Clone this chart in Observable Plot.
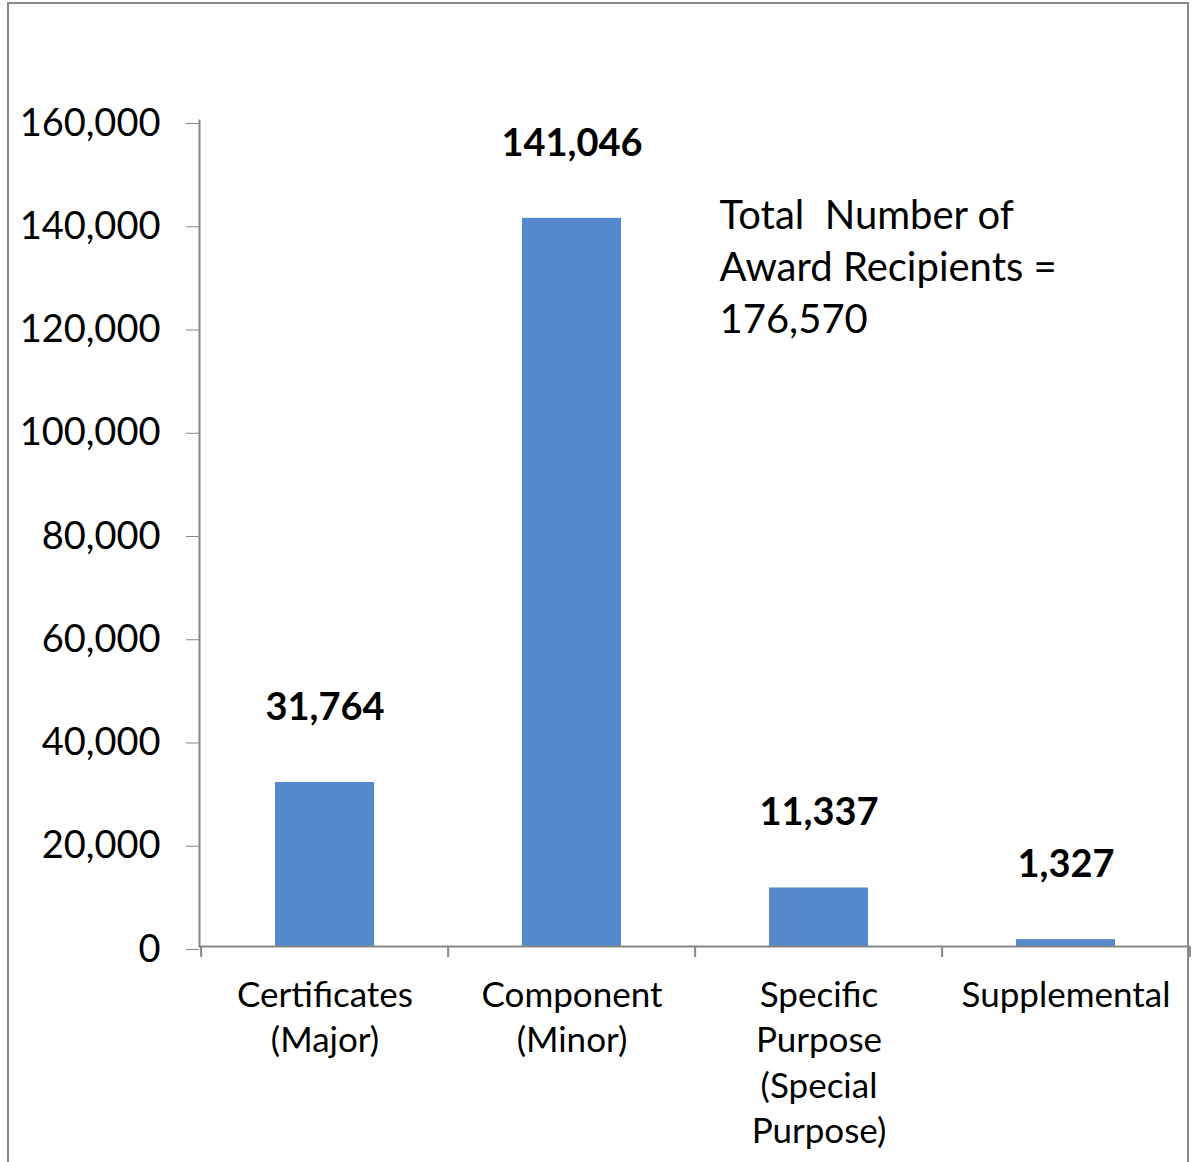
<!DOCTYPE html>
<html>
<head>
<meta charset="utf-8">
<script src="https://cdn.jsdelivr.net/npm/d3@7"></script>
<script src="https://cdn.jsdelivr.net/npm/@observablehq/plot@0.6"></script>
<style>
  html, body { margin: 0; padding: 0; background: #fff; }
  #wrap { position: relative; width: 1203px; height: 1162px; overflow: hidden; }
  #border { position: absolute; left: 7px; top: 2px; width: 1182px; height: 1200px; border: 2px solid #8a8a8a; box-sizing: border-box; pointer-events: none; }
  svg { font-family: Lato, "Open Sans", sans-serif; }
</style>
</head>
<body>
<div id="wrap"><div id="chart"></div><div id="border"></div></div>
<script>
const categories = ["Certificates (Major)", "Component (Minor)", "Specific Purpose (Special Purpose)", "Supplemental"];
const tickLabels = ["Certificates\n(Major)", "Component\n(Minor)", "Specific\nPurpose\n(Special\nPurpose)", "Supplemental"];
const values = [31764, 141046, 11337, 1327];
const valueLabels = ["31,764", "141,046", "11,337", "1,327"];
const annotation = "Total  Number of\nAward Recipients =\n176,570";
const yTicks = [0, 20000, 40000, 60000, 80000, 100000, 120000, 140000, 160000];

const data = categories.map((c, i) => ({category: c, value: values[i], label: valueLabels[i]}));

const W = 1203, H = 1162;
const mL = 199, mR = 13, mT = 120, mB = 216;
const step = (W - mL - mR) / categories.length;
const axisColor = "#868686";

const chart = Plot.plot({
  width: W,
  height: H,
  marginLeft: mL,
  marginRight: mR,
  marginTop: mT,
  marginBottom: mB,
  style: {background: "white", color: "black", fontSize: "35px"},
  x: {domain: categories, paddingInner: 0.6, paddingOuter: 0.3, label: null},
  y: {domain: [0, 160000], label: null},
  marks: [
    Plot.barY(data, {x: "category", y: "value", fill: "#5589cd"}),
    Plot.axisY({ticks: yTicks, tickSize: 13, tickPadding: 26, stroke: axisColor, fill: "black", fontSize: 38, dy: 3, label: null}),
    Plot.frame({anchor: "left", stroke: axisColor, strokeWidth: 2}),
    Plot.ruleY([0], {stroke: axisColor, strokeWidth: 2}),
    Plot.axisX({tickSize: 11, dx: -step / 2, text: null, stroke: axisColor, strokeWidth: 2, label: null}),
    Plot.axisX({ticks: [categories[categories.length - 1]], tickSize: 11, dx: step / 2, text: null, stroke: axisColor, strokeWidth: 2, label: null}),
    Plot.axisX({tickSize: 0, tickPadding: 28, tickFormat: (d) => tickLabels[categories.indexOf(d)], fontSize: 35, lineHeight: 1.3, fill: "black", label: null}),
    Plot.text(data, {x: "category", y: "value", text: "label", dy: -75, fontSize: 38, fontWeight: "bold", fill: "black"}),
    Plot.text([annotation], {frameAnchor: "top-left", dx: 520, dy: 72, textAnchor: "start", lineAnchor: "top", fontSize: 40, lineHeight: 1.3, fill: "black"})
  ]
});
document.getElementById("chart").appendChild(chart);
</script>
</body>
</html>
